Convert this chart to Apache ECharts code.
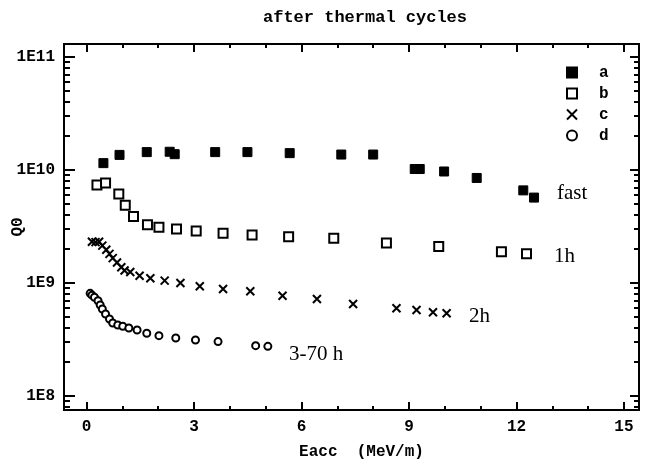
<!DOCTYPE html>
<html>
<head>
<meta charset="utf-8">
<script src="https://cdn.jsdelivr.net/npm/echarts@6/dist/echarts.min.js"></script>
<style>html,body{margin:0;padding:0;background:#fff}#c{width:645px;height:465px}</style>
</head>
<body>
<div id="c"></div>
<script>
// ---- data (Eacc in MeV/m, Q0) ----
const seriesNames = ['a', 'b', 'c', 'd'];
const aEacc = [0.47, 0.92, 1.68, 2.32, 2.46, 3.59, 4.49, 5.67, 7.11, 8.0, 9.16, 9.30, 9.98, 10.89, 12.19, 12.49];
const aQ0 = [1.15e10, 1.36e10, 1.44e10, 1.45e10, 1.38e10, 1.44e10, 1.44e10, 1.41e10, 1.37e10, 1.37e10, 1.02e10, 1.02e10, 9.7e9, 8.5e9, 6.6e9, 5.7e9];
const bEacc = [0.29, 0.53, 0.90, 1.08, 1.31, 1.70, 2.02, 2.51, 3.06, 3.81, 4.62, 5.64, 6.90, 8.37, 9.83, 11.58, 12.28];
const bQ0 = [7.37e9, 7.67e9, 6.13e9, 4.88e9, 3.87e9, 3.28e9, 3.11e9, 3.01e9, 2.89e9, 2.75e9, 2.66e9, 2.57e9, 2.49e9, 2.26e9, 2.10e9, 1.89e9, 1.81e9];
const cEacc = [0.15, 0.25, 0.35, 0.44, 0.55, 0.64, 0.73, 0.85, 0.97, 1.06, 1.22, 1.48, 1.78, 2.18, 2.62, 3.16, 3.81, 4.57, 5.47, 6.43, 7.44, 8.65, 9.21, 9.67, 10.05];
const cQ0 = [2.32e9, 2.30e9, 2.32e9, 2.14e9, 1.97e9, 1.81e9, 1.66e9, 1.52e9, 1.38e9, 1.29e9, 1.25e9, 1.16e9, 1.10e9, 1.05e9, 1.0e9, 9.35e8, 8.86e8, 8.45e8, 7.72e8, 7.22e8, 6.52e8, 5.97e8, 5.77e8, 5.51e8, 5.39e8];
const dEacc = [0.10, 0.15, 0.22, 0.32, 0.38, 0.44, 0.53, 0.64, 0.73, 0.87, 1.01, 1.18, 1.41, 1.68, 2.02, 2.49, 3.04, 3.67, 4.72, 5.06];
const dQ0 = [8.1e8, 7.8e8, 7.47e8, 6.97e8, 6.38e8, 5.89e8, 5.32e8, 4.80e8, 4.43e8, 4.25e8, 4.14e8, 4.00e8, 3.84e8, 3.59e8, 3.42e8, 3.26e8, 3.13e8, 3.03e8, 2.79e8, 2.75e8];
const xMajorTicks = [0, 3, 6, 9, 12, 15];
const xMinorTicks = [1, 2, 4, 5, 7, 8, 10, 11, 13, 14];
const yDecades = [1e8, 1e9, 1e10, 1e11];
const curveLabels = ['fast', '1h', '2h', '3-70 h'];
const titleText = 'after thermal cycles';
const xName = 'Eacc  (MeV/m)';
const yName = 'Q0';

// ---- build ----
const L = Math.log10;
const yMin = 7.876, yMax = 11.115, xMin = -0.63, xMax = 15.42;
const decLog = yDecades.map(L);
const minorLog = [];
for (let n = 7; n <= 10; n++) for (let k = 2; k <= 9; k++) {
  const v = L(k * Math.pow(10, n));
  if (v > yMin && v < yMax) minorLog.push(v);
}
const mono = 'Liberation Mono';
const lbl = { fontFamily: mono, fontWeight: 'bold', fontSize: 16, color: '#000' };
const line = { show: true, onZero: false, lineStyle: { color: '#000', width: 2 } };
function xAx(pos, ticks, len, opts) {
  return Object.assign({
    type: 'value', position: pos, min: xMin, max: xMax, splitLine: { show: false },
    axisLine: line,
    axisTick: { show: true, inside: true, length: len, customValues: ticks, lineStyle: { color: '#000', width: 2 } },
    axisLabel: { show: false }
  }, opts || {});
}
function yAx(pos, ticks, len, opts) {
  return Object.assign({
    type: 'value', position: pos, min: yMin, max: yMax, splitLine: { show: false },
    axisLine: line,
    axisTick: { show: true, inside: true, length: len, customValues: ticks, lineStyle: { color: '#000', width: 2 } },
    axisLabel: { show: false }
  }, opts || {});
}
const toData = (xs, ys) => xs.map((x, i) => [x, L(ys[i])]);
const sym = [
  { symbol: 'rect', symbolSize: 9, itemStyle: { color: '#000', borderColor: '#000', borderWidth: 1, opacity: 1 } },
  { symbol: 'rect', symbolSize: 9, itemStyle: { color: '#fff', borderColor: '#000', borderWidth: 2, opacity: 1 } },
  { symbol: 'path://M0,0L10,10M10,0L0,10', symbolSize: 8, itemStyle: { color: '#000', borderColor: '#000', borderWidth: 2, opacity: 1 } },
  { symbol: 'circle', symbolSize: 7, itemStyle: { color: '#fff', borderColor: '#000', borderWidth: 2, opacity: 1 } }
];
const xs = [aEacc, bEacc, cEacc, dEacc], ys = [aQ0, bQ0, cQ0, dQ0];
const series = seriesNames.map((n, i) => Object.assign({
  name: n, type: 'scatter', xAxisIndex: 0, yAxisIndex: 0, data: toData(xs[i], ys[i])
}, sym[i]));

const serif = { fontFamily: 'Liberation Serif', fontSize: 21, fill: '#000' };
const labelPos = [[557, 195], [554, 258], [469, 318], [289, 356]];
const graphics = curveLabels.map((t, i) => ({
  type: 'text', left: labelPos[i][0], top: labelPos[i][1] - 12,
  style: Object.assign({ text: t }, serif)
}));

const chart = echarts.init(document.getElementById('c'), null, { renderer: 'canvas' });
chart.setOption({
  backgroundColor: '#fff',
  animation: false,
  title: { text: titleText, left: 360, top: 4, textAlign: 'center',
    textStyle: Object.assign({}, lbl, { fontSize: 17 }) },
  grid: { left: 64, right: 6, top: 44, bottom: 55, containLabel: false, outerBoundsMode: 'none' },
  legend: {
    data: seriesNames, orient: 'vertical', left: 561, top: 59, itemWidth: 10, itemHeight: 10, itemGap: 4,
    textStyle: Object.assign({}, lbl, { lineHeight: 17, padding: [0, 0, 0, 17] })
  },
  xAxis: [
    xAx('bottom', xMajorTicks, 8, {
      axisLabel: { show: true, customValues: xMajorTicks, margin: 9, ...lbl },
      name: xName, nameLocation: 'middle', nameGap: 34, nameMoveOverlap: false,
      nameTextStyle: Object.assign({}, lbl, { padding: [0, 0, 0, 20] })
    }),
    xAx('bottom', xMinorTicks, 4),
    xAx('top', xMajorTicks, 8),
    xAx('top', xMinorTicks, 4)
  ],
  yAxis: [
    yAx('left', decLog, 11, {
      axisLabel: { show: true, customValues: decLog, margin: 9, formatter: v => '1E' + Math.round(v), ...lbl },
      name: yName, nameLocation: 'middle', nameGap: 38, nameMoveOverlap: false, nameTextStyle: lbl
    }),
    yAx('left', minorLog, 6),
    yAx('right', decLog, 9),
    yAx('right', minorLog, 5)
  ],
  series: series,
  graphic: graphics
});
</script>
</body>
</html>
